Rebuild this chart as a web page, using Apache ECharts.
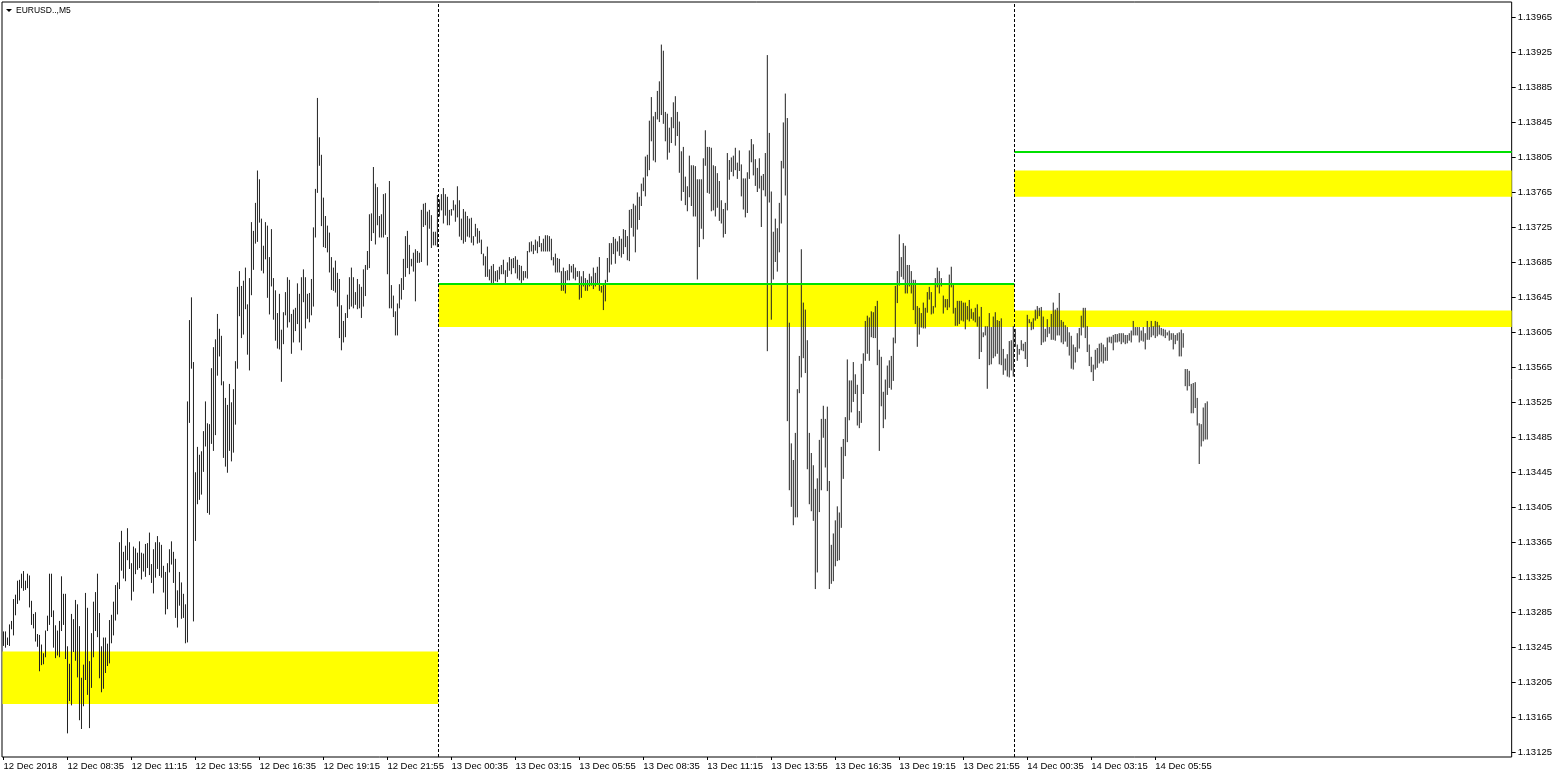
<!DOCTYPE html>
<html><head><meta charset="utf-8">
<script src="https://cdn.jsdelivr.net/npm/echarts@6/dist/echarts.min.js"></script>
<style>html,body{margin:0;padding:0;background:#fff;overflow:hidden}#c{width:1555px;height:778px}</style>
</head><body><div id="c"></div>
<script>
const symbolTitle = 'EURUSD..,M5';
const timeLabels = ['12 Dec 2018','12 Dec 08:35','12 Dec 11:15','12 Dec 13:55','12 Dec 16:35','12 Dec 19:15','12 Dec 21:55','13 Dec 00:35','13 Dec 03:15','13 Dec 05:55','13 Dec 08:35','13 Dec 11:15','13 Dec 13:55','13 Dec 16:35','13 Dec 19:15','13 Dec 21:55','14 Dec 00:35','14 Dec 03:15','14 Dec 05:55'];
const timeLabelBars = [0,32,64,96,128,160,192,224,256,288,320,352,384,416,448,480,512,544,576];
const priceTicks = [1.13125,1.13165,1.13205,1.13245,1.13285,1.13325,1.13365,1.13405,1.13445,1.13485,1.13525,1.13565,1.13605,1.13645,1.13685,1.13725,1.13765,1.13805,1.13845,1.13885,1.13925,1.13965];
const lastPrice = 1.13499;
const daySeparatorBars = [217, 505];
const zoneTop = [1.13240, 1.13660, 1.13790, 1.13630];
const zoneBottom = [1.13180, 1.13611, 1.13760, 1.13611];
const zoneFromBar = [0, 218, 506, 506];
const zoneToBar = [217, 505, null, null];
const greenLevels = [1.13660, 1.13812];
const greenFromBar = [218, 506];
const greenToBar = [505, null];
const highs = [
1.13263,1.13263,1.13256,1.13271,1.13275,1.13300,1.13305,1.13321,1.13322,1.13329,
1.13332,1.13321,1.13329,1.13327,1.13298,1.13283,1.13285,1.13260,1.13259,1.13248,
1.13238,1.13264,1.13281,1.13329,1.13329,1.13287,1.13270,1.13264,1.13275,1.13326,
1.13306,1.13306,1.13246,1.13226,1.13283,1.13277,1.13299,1.13294,1.13269,1.13210,
1.13225,1.13307,1.13290,1.13229,1.13261,1.13297,1.13308,1.13329,1.13284,1.13246,
1.13256,1.13256,1.13249,1.13276,1.13282,1.13297,1.13316,1.13319,1.13365,1.13378,
1.13354,1.13361,1.13381,1.13365,1.13341,1.13360,1.13358,1.13353,1.13366,1.13353,
1.13352,1.13363,1.13364,1.13376,1.13340,1.13357,1.13365,1.13372,1.13365,1.13362,
1.13338,1.13331,1.13341,1.13357,1.13366,1.13354,1.13346,1.13310,1.13331,1.13319,
1.13306,1.13294,1.13526,1.13619,1.13645,1.13571,1.13445,1.13474,1.13465,1.13469,
1.13492,1.13526,1.13501,1.13500,1.13564,1.13588,1.13597,1.13626,1.13609,1.13601,
1.13549,1.13530,1.13522,1.13546,1.13525,1.13540,1.13572,1.13657,1.13675,1.13658,
1.13664,1.13679,1.13637,1.13667,1.13731,1.13721,1.13753,1.13790,1.13780,1.13735,
1.13704,1.13731,1.13727,1.13691,1.13723,1.13667,1.13653,1.13627,1.13649,1.13608,
1.13628,1.13651,1.13668,1.13665,1.13626,1.13631,1.13633,1.13661,1.13649,1.13668,
1.13677,1.13668,1.13649,1.13650,1.13666,1.13725,1.13769,1.13873,1.13828,1.13808,
1.13759,1.13738,1.13727,1.13719,1.13691,1.13679,1.13687,1.13673,1.13666,1.13636,
1.13618,1.13627,1.13648,1.13668,1.13679,1.13668,1.13651,1.13666,1.13660,1.13657,
1.13677,1.13682,1.13698,1.13740,1.13741,1.13794,1.13775,1.13771,1.13738,1.13740,
1.13763,1.13764,1.13714,1.13778,1.13659,1.13647,1.13629,1.13638,1.13660,1.13667,
1.13689,1.13715,1.13721,1.13705,1.13689,1.13696,1.13700,1.13698,1.13696,1.13745,
1.13752,1.13753,1.13743,1.13745,1.13739,1.13720,1.13720,1.13762,1.13757,1.13763,
1.13770,1.13763,1.13760,1.13745,1.13746,1.13756,1.13751,1.13772,1.13756,1.13735,
1.13746,1.13743,1.13738,1.13735,1.13736,1.13715,1.13729,1.13724,1.13721,1.13711,
1.13695,1.13692,1.13703,1.13677,1.13681,1.13683,1.13675,1.13676,1.13680,1.13682,
1.13688,1.13676,1.13685,1.13691,1.13689,1.13690,1.13692,1.13688,1.13682,1.13681,
1.13675,1.13675,1.13698,1.13708,1.13709,1.13705,1.13711,1.13709,1.13715,1.13707,
1.13712,1.13716,1.13716,1.13715,1.13712,1.13691,1.13695,1.13690,1.13689,1.13675,
1.13679,1.13675,1.13676,1.13683,1.13681,1.13683,1.13679,1.13675,1.13675,1.13669,
1.13675,1.13667,1.13665,1.13672,1.13669,1.13679,1.13673,1.13680,1.13691,1.13658,
1.13660,1.13665,1.13690,1.13707,1.13707,1.13714,1.13712,1.13709,1.13715,1.13712,
1.13723,1.13722,1.13715,1.13745,1.13746,1.13752,1.13750,1.13765,1.13760,1.13775,
1.13782,1.13806,1.13808,1.13847,1.13874,1.13852,1.13857,1.13881,1.13892,1.13934,
1.13927,1.13857,1.13855,1.13839,1.13851,1.13868,1.13875,1.13857,1.13846,1.13812,
1.13817,1.13783,1.13772,1.13807,1.13796,1.13796,1.13795,1.13780,1.13780,1.13780,
1.13804,1.13836,1.13817,1.13817,1.13816,1.13796,1.13795,1.13787,1.13778,1.13756,
1.13746,1.13753,1.13810,1.13802,1.13805,1.13807,1.13816,1.13799,1.13813,1.13797,
1.13781,1.13781,1.13788,1.13813,1.13826,1.13820,1.13803,1.13793,1.13804,1.13784,
1.13786,1.13810,1.13922,1.13833,1.13766,1.13720,1.13735,1.13724,1.13753,1.13801,
1.13845,1.13878,1.13850,1.13616,1.13478,1.13459,1.13490,1.13540,1.13578,1.13700,
1.13639,1.13631,1.13596,1.13490,1.13467,1.13453,1.13426,1.13438,1.13482,1.13506,
1.13521,1.13506,1.13520,1.13435,1.13362,1.13375,1.13390,1.13406,1.13399,1.13474,
1.13483,1.13508,1.13574,1.13550,1.13550,1.13571,1.13557,1.13545,1.13515,1.13569,
1.13581,1.13618,1.13624,1.13622,1.13629,1.13628,1.13635,1.13641,1.13585,1.13577,
1.13537,1.13551,1.13567,1.13573,1.13578,1.13599,1.13658,1.13675,1.13717,1.13691,
1.13707,1.13704,1.13682,1.13682,1.13675,1.13665,1.13665,1.13635,1.13633,1.13627,
1.13639,1.13633,1.13651,1.13657,1.13651,1.13635,1.13667,1.13679,1.13675,1.13667,
1.13647,1.13643,1.13643,1.13671,1.13680,1.13659,1.13633,1.13641,1.13641,1.13641,
1.13639,1.13639,1.13635,1.13642,1.13632,1.13628,1.13633,1.13637,1.13623,1.13634,
1.13605,1.13612,1.13612,1.13627,1.13611,1.13623,1.13628,1.13619,1.13618,1.13621,
1.13586,1.13575,1.13580,1.13595,1.13596,1.13612,1.13609,1.13591,1.13586,1.13596,
1.13592,1.13594,1.13625,1.13620,1.13617,1.13621,1.13631,1.13635,1.13633,1.13634,
1.13623,1.13609,1.13620,1.13611,1.13626,1.13639,1.13631,1.13633,1.13650,1.13619,
1.13617,1.13613,1.13611,1.13605,1.13601,1.13591,1.13588,1.13604,1.13610,1.13624,
1.13633,1.13633,1.13612,1.13591,1.13577,1.13568,1.13585,1.13587,1.13592,1.13593,
1.13591,1.13588,1.13599,1.13600,1.13600,1.13602,1.13603,1.13603,1.13604,1.13604,
1.13604,1.13602,1.13602,1.13604,1.13607,1.13618,1.13611,1.13611,1.13611,1.13607,
1.13611,1.13604,1.13618,1.13611,1.13618,1.13612,1.13618,1.13617,1.13613,1.13610,
1.13609,1.13608,1.13605,1.13607,1.13604,1.13604,1.13602,1.13604,1.13605,1.13608,
1.13604,1.13563,1.13563,1.13561,1.13546,1.13547,1.13548,1.13530,1.13501,1.13500,
1.13519,1.13524,1.13526];
const lows = [
1.13247,1.13245,1.13248,1.13247,1.13266,1.13259,1.13282,1.13295,1.13299,1.13313,
1.13310,1.13311,1.13313,1.13291,1.13271,1.13267,1.13252,1.13246,1.13218,1.13225,
1.13226,1.13234,1.13264,1.13271,1.13280,1.13245,1.13233,1.13236,1.13234,1.13264,
1.13271,1.13232,1.13147,1.13184,1.13179,1.13240,1.13230,1.13211,1.13162,1.13152,
1.13178,1.13208,1.13191,1.13153,1.13199,1.13234,1.13264,1.13257,1.13210,1.13194,
1.13198,1.13216,1.13224,1.13227,1.13250,1.13259,1.13276,1.13283,1.13312,1.13333,
1.13324,1.13321,1.13345,1.13335,1.13299,1.13309,1.13329,1.13334,1.13336,1.13323,
1.13332,1.13326,1.13336,1.13328,1.13319,1.13307,1.13325,1.13335,1.13327,1.13325,
1.13308,1.13283,1.13289,1.13331,1.13340,1.13319,1.13279,1.13268,1.13293,1.13278,
1.13279,1.13250,1.13251,1.13502,1.13564,1.13275,1.13367,1.13409,1.13414,1.13420,
1.13446,1.13475,1.13399,1.13397,1.13478,1.13470,1.13488,1.13556,1.13578,1.13545,
1.13462,1.13452,1.13445,1.13470,1.13458,1.13468,1.13500,1.13564,1.13624,1.13599,
1.13603,1.13632,1.13580,1.13562,1.13648,1.13677,1.13707,1.13709,1.13731,1.13676,
1.13673,1.13689,1.13645,1.13626,1.13658,1.13620,1.13596,1.13587,1.13586,1.13549,
1.13592,1.13625,1.13611,1.13617,1.13581,1.13594,1.13607,1.13615,1.13594,1.13585,
1.13640,1.13610,1.13621,1.13617,1.13625,1.13635,1.13714,1.13765,1.13796,1.13727,
1.13703,1.13702,1.13697,1.13674,1.13654,1.13653,1.13651,1.13635,1.13599,1.13585,
1.13594,1.13600,1.13622,1.13632,1.13635,1.13633,1.13637,1.13632,1.13633,1.13622,
1.13635,1.13647,1.13677,1.13679,1.13710,1.13719,1.13706,1.13728,1.13714,1.13714,
1.13714,1.13717,1.13672,1.13633,1.13633,1.13623,1.13602,1.13602,1.13633,1.13643,
1.13654,1.13669,1.13679,1.13672,1.13681,1.13675,1.13641,1.13685,1.13685,1.13686,
1.13726,1.13728,1.13682,1.13724,1.13702,1.13705,1.13705,1.13703,1.13738,1.13745,
1.13730,1.13739,1.13728,1.13728,1.13739,1.13745,1.13732,1.13737,1.13715,1.13711,
1.13707,1.13709,1.13715,1.13714,1.13708,1.13705,1.13715,1.13707,1.13708,1.13695,
1.13682,1.13669,1.13669,1.13665,1.13662,1.13662,1.13664,1.13663,1.13666,1.13672,
1.13672,1.13662,1.13669,1.13676,1.13672,1.13679,1.13673,1.13667,1.13665,1.13662,
1.13665,1.13668,1.13667,1.13697,1.13698,1.13695,1.13699,1.13696,1.13703,1.13698,
1.13698,1.13698,1.13698,1.13698,1.13688,1.13682,1.13674,1.13674,1.13674,1.13653,
1.13653,1.13650,1.13665,1.13665,1.13674,1.13667,1.13665,1.13669,1.13643,1.13645,
1.13658,1.13653,1.13653,1.13658,1.13659,1.13655,1.13658,1.13660,1.13653,1.13651,
1.13631,1.13641,1.13663,1.13674,1.13683,1.13695,1.13684,1.13698,1.13693,1.13691,
1.13695,1.13703,1.13688,1.13687,1.13725,1.13715,1.13697,1.13723,1.13734,1.13750,
1.13767,1.13761,1.13784,1.13791,1.13824,1.13802,1.13800,1.13849,1.13846,1.13854,
1.13844,1.13824,1.13803,1.13811,1.13822,1.13839,1.13819,1.13830,1.13788,1.13756,
1.13766,1.13751,1.13744,1.13760,1.13750,1.13738,1.13738,1.13666,1.13703,1.13724,
1.13712,1.13796,1.13765,1.13764,1.13744,1.13745,1.13738,1.13748,1.13733,1.13730,
1.13714,1.13718,1.13745,1.13780,1.13789,1.13784,1.13791,1.13781,1.13790,1.13761,
1.13746,1.13737,1.13742,1.13781,1.13800,1.13785,1.13773,1.13766,1.13770,1.13726,
1.13768,1.13761,1.13584,1.13754,1.13620,1.13666,1.13686,1.13675,1.13697,1.13730,
1.13793,1.13762,1.13504,1.13425,1.13406,1.13385,1.13394,1.13394,1.13536,1.13554,
1.13576,1.13559,1.13449,1.13409,1.13401,1.13390,1.13312,1.13331,1.13400,1.13425,
1.13485,1.13451,1.13424,1.13312,1.13318,1.13321,1.13338,1.13344,1.13345,1.13382,
1.13438,1.13464,1.13480,1.13505,1.13514,1.13526,1.13535,1.13499,1.13496,1.13502,
1.13535,1.13573,1.13581,1.13573,1.13600,1.13599,1.13599,1.13568,1.13470,1.13521,
1.13496,1.13506,1.13534,1.13542,1.13540,1.13550,1.13593,1.13639,1.13659,1.13669,
1.13666,1.13650,1.13650,1.13658,1.13650,1.13631,1.13615,1.13589,1.13603,1.13611,
1.13610,1.13610,1.13628,1.13643,1.13626,1.13627,1.13634,1.13657,1.13650,1.13658,
1.13627,1.13634,1.13631,1.13634,1.13657,1.13627,1.13613,1.13613,1.13615,1.13619,
1.13618,1.13609,1.13620,1.13618,1.13621,1.13619,1.13617,1.13612,1.13575,1.13583,
1.13600,1.13602,1.13541,1.13568,1.13569,1.13576,1.13578,1.13581,1.13569,1.13568,
1.13557,1.13562,1.13555,1.13554,1.13562,1.13555,1.13589,1.13573,1.13580,1.13585,
1.13584,1.13575,1.13566,1.13616,1.13608,1.13609,1.13619,1.13621,1.13624,1.13591,
1.13594,1.13595,1.13600,1.13604,1.13597,1.13597,1.13596,1.13602,1.13602,1.13594,
1.13592,1.13595,1.13589,1.13579,1.13564,1.13563,1.13571,1.13583,1.13587,1.13602,
1.13611,1.13599,1.13583,1.13567,1.13560,1.13550,1.13563,1.13565,1.13570,1.13572,
1.13570,1.13573,1.13573,1.13594,1.13593,1.13585,1.13594,1.13594,1.13595,1.13592,
1.13594,1.13592,1.13593,1.13596,1.13594,1.13602,1.13602,1.13602,1.13594,1.13596,
1.13595,1.13586,1.13597,1.13597,1.13600,1.13602,1.13599,1.13601,1.13603,1.13602,
1.13601,1.13599,1.13602,1.13596,1.13597,1.13586,1.13592,1.13596,1.13578,1.13578,
1.13588,1.13544,1.13539,1.13544,1.13513,1.13513,1.13519,1.13499,1.13455,1.13475,
1.13481,1.13483,1.13483];

const FONT = 'Liberation Sans';
const X_MIN = -0.75, X_MAX = 754.25;
const Y_MIN = 1.131194, Y_MAX = 1.139827;
const BAR_COLOR = '#202020';

const barData = highs.map((h, i) => [i, h, lows[i]]);

const zoneAreas = zoneTop.map((t, k) => [
  { xAxis: zoneFromBar[k] - 0.5, yAxis: t },
  { xAxis: zoneToBar[k] === null ? X_MAX : zoneToBar[k] + 0.5, yAxis: zoneBottom[k] }
]);
const greenLines = greenLevels.map((lv, k) => [
  { coord: [greenFromBar[k] - 0.5, lv] },
  { coord: [greenToBar[k] === null ? X_MAX : greenToBar[k] + 0.5, lv] }
]);

const chart = echarts.init(document.getElementById('c'), null, { renderer: 'canvas', width: 1555, height: 778 });
chart.setOption({
  animation: false,
  backgroundColor: '#fff',
  grid: { left: 2, right: 43, top: 2, bottom: 21, show: true, borderColor: '#000', borderWidth: 1, backgroundColor: '#fff' },
  graphic: [
    { type: 'polygon', shape: { points: [[6, 9], [12, 9], [9, 12]] }, style: { fill: '#000' }, z: 100 },
    { type: 'text', left: 16, top: 6, style: { text: symbolTitle, font: '8.5px ' + FONT, fill: '#000' }, z: 100 }
  ],
  xAxis: {
    type: 'value', min: X_MIN, max: X_MAX,
    splitLine: { show: false },
    axisLine: { show: false, onZero: false },
    axisTick: { show: true, customValues: timeLabelBars, length: 3, inside: false, lineStyle: { color: '#000' } },
    axisLabel: {
      customValues: timeLabelBars,
      formatter: v => timeLabels[timeLabelBars.indexOf(v)] || '',
      align: 'left', margin: 4, color: '#000', fontSize: 9.5, fontFamily: FONT
    }
  },
  yAxis: {
    type: 'value', position: 'right', min: Y_MIN, max: Y_MAX, scale: true,
    splitLine: { show: false },
    axisLine: { show: false, onZero: false },
    axisTick: { show: true, customValues: priceTicks, length: 4, lineStyle: { color: '#000' } },
    axisLabel: { customValues: priceTicks, formatter: v => v.toFixed(5), color: '#000', fontSize: 9.5, fontFamily: FONT, margin: 6 }
  },
  series: [
    {
      type: 'line', data: [], z: 1, silent: true,
      markArea: { silent: true, itemStyle: { color: '#ffff00' }, label: { show: false }, data: zoneAreas },
      markLine: { silent: true, symbol: ['none', 'none'], label: { show: false }, lineStyle: { color: '#00e000', width: 2, type: 'solid' }, data: greenLines }
    },
    {
      type: 'custom', z: 2, silent: true, clip: true,
      data: barData,
      encode: { x: 0, y: [1, 2] },
      renderItem: (params, api) => {
        const x = api.value(0);
        const p1 = api.coord([x, api.value(1)]);
        const p2 = api.coord([x, api.value(2)]);
        return { type: 'line', shape: { x1: p1[0], y1: p1[1], x2: p2[0], y2: p2[1] + 0.5 }, style: { stroke: BAR_COLOR, lineWidth: 1 } };
      }
    },
    {
      type: 'line', data: [], z: 3, silent: true,
      markLine: {
        silent: true, symbol: ['none', 'none'], animation: false,
        data: [
          ...daySeparatorBars.map(b => ({ xAxis: b + 0.5, lineStyle: { color: '#000', width: 1, type: [3, 2] }, label: { show: false } })),
          { yAxis: lastPrice, lineStyle: { color: '#000', width: 1, type: 'solid' },
            label: { show: true, position: 'end', formatter: lastPrice.toFixed(5), backgroundColor: '#000', color: '#fff', fontSize: 9.5, fontFamily: FONT, padding: [1, 3, 0, 3], distance: 3 } }
        ]
      }
    }
  ]
});
</script></body></html>
